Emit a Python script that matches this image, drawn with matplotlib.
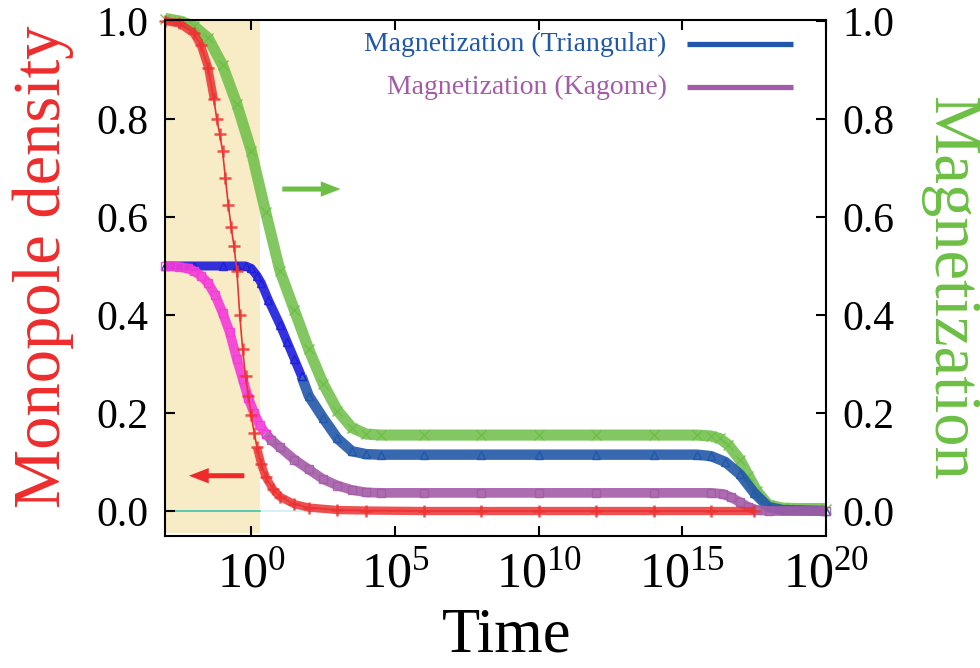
import numpy as np
import matplotlib
matplotlib.use("Agg")
import matplotlib.pyplot as plt

plt.rcParams["font.family"] = ["Liberation Serif", "DejaVu Serif"]
plt.rcParams["mathtext.fontset"] = "custom"
plt.rcParams["mathtext.rm"] = "Liberation Serif"
plt.rcParams["mathtext.it"] = "Liberation Serif:italic"

# ---- data: log10(time) and value ---------------------------------------
mono_logt = [-3.0, -2.5, -2.0, -1.75, -1.5, -1.3, -1.2, -1.1, -1.0, -0.9, -0.8,
             -0.7, -0.6, -0.5, -0.4, -0.3, -0.2, -0.1, 0.0, 0.1, 0.2, 0.35,
             0.5, 0.75, 1.0, 1.5, 2.0, 3.0, 4.0, 6.0, 8.0, 10.0, 12.0, 14.0,
             16.0, 17.5]
mono_val = [1.0, 0.995, 0.975, 0.95, 0.905, 0.84, 0.80, 0.77, 0.735, 0.68, 0.625,
            0.58, 0.54, 0.49, 0.40, 0.33, 0.275, 0.235, 0.195, 0.16, 0.13, 0.095,
            0.07, 0.045, 0.029, 0.014, 0.007, 0.002, 0.001, 0.0, 0.0, 0.0, 0.0, 0.0,
            0.0, 0.0]

mag_logt = [-3.0, -2.5, -2.0, -1.5, -1.0, -0.5, 0.0, 0.5, 1.0, 1.5, 2.0, 2.5,
            3.0, 3.5, 4.0, 4.5, 6.0, 8.0, 10.0, 12.0, 14.0, 15.5, 16.0, 16.3,
            16.6, 17.0, 17.3, 17.6, 18.0, 18.5, 19.0, 20.0]
mag_val = [1.005, 1.0, 0.99, 0.965, 0.91, 0.83, 0.735, 0.61, 0.49, 0.41, 0.33,
           0.26, 0.205, 0.17, 0.157, 0.155, 0.155, 0.155, 0.155, 0.155, 0.155,
           0.155, 0.153, 0.148, 0.135, 0.105, 0.072, 0.04, 0.012, 0.006, 0.005,
           0.005]

tri_logt = [-3.0, -2.0, -1.0, -0.5, -0.2, 0.0, 0.2, 0.35, 0.6, 1.0, 1.25, 1.5,
            1.75, 2.0, 2.5, 3.0, 3.5, 4.0, 4.5, 6.0, 8.0, 10.0, 12.0, 14.0,
            15.5, 16.0, 16.5, 17.0, 17.5, 18.0, 18.5, 20.0]
tri_val = [0.5, 0.5, 0.5, 0.5, 0.5, 0.495, 0.48, 0.465, 0.43, 0.38, 0.345, 0.31,
           0.275, 0.235, 0.19, 0.148, 0.122, 0.116, 0.115, 0.115, 0.115, 0.115,
           0.115, 0.115, 0.115, 0.112, 0.1, 0.075, 0.037, 0.008, 0.002, 0.0]

kag_logt = [-3.0, -2.5, -2.2, -2.0, -1.75, -1.5, -1.25, -1.0, -0.75, -0.5, -0.3,
            -0.1, 0.1, 0.3, 0.5, 0.7, 1.0, 1.5, 2.0, 2.5, 3.0, 3.5, 4.0, 4.5,
            6.0, 8.0, 10.0, 12.0, 14.0, 16.0, 16.4, 16.7, 17.0, 17.3, 17.6, 18.0,
            20.0]
kag_val = [0.5, 0.498, 0.495, 0.49, 0.48, 0.465, 0.44, 0.405, 0.365, 0.31, 0.27,
           0.23, 0.2, 0.175, 0.158, 0.145, 0.13, 0.105, 0.085, 0.065, 0.052,
           0.043, 0.038, 0.037, 0.037, 0.037, 0.037, 0.037, 0.037, 0.037, 0.035,
           0.028, 0.018, 0.008, 0.002, 0.0, 0.0]

# early-stage colouring ends at these exponents
tri_switch = 1.75
kag_switch = 0.5
shade_end = 0.31

x_ticks = [0, 5, 10, 15, 20]
y_ticks = [0.0, 0.2, 0.4, 0.6, 0.8, 1.0]

RED = "#EC3232"
GREEN = "#6CBE45"
BLUE = "#2157A8"
BLUE_EARLY = "#1C1CDC"
PURPLE = "#A35CA7"
MAGENTA = "#F53BD9"

fig = plt.figure(figsize=(9.8, 6.68), dpi=100)
ax = fig.add_axes([0.1684, 0.1976, 0.6745, 0.7725])
ax.set_xscale("log")
ax.set_xlim(1e-3, 1e20)
ax.set_ylim(-0.051, 1.002)

# shaded early-time window
ax.axvspan(1e-3, 10 ** shade_end, ymin=0.006, ymax=1.0, color="#F8ECC6",
           lw=0, zorder=0)
# zero reference line
ax.axhline(0.0, color="#CDEFF3", lw=1.2, zorder=1)
ax.plot([1e-3, 10 ** shade_end], [0, 0], color="#45C4A6", lw=1.2, zorder=1)


def t(logs):
    return 10.0 ** np.asarray(logs, dtype=float)


def band(logs, vals, color, lw, marker, ms, z, alpha=0.9):
    ax.plot(t(logs), vals, color=color, lw=lw, alpha=alpha,
            solid_capstyle="butt", zorder=z, clip_on=False)
    ax.plot(t(logs), vals, ls="none", marker=marker, ms=ms, mew=1.0,
            mfc="none", mec=color, alpha=0.9, zorder=z + 0.1, clip_on=False)


# magnetization (green)
band(mag_logt, mag_val, GREEN, 8, "x", 7, 2, alpha=0.85)

# triangular lattice
tl = np.asarray(tri_logt)
tv = np.asarray(tri_val)
late = tl >= tri_switch
early = tl <= tri_switch
band(tl[late], tv[late], BLUE, 7.5, "^", 6, 3)
band(tl[early], tv[early], BLUE_EARLY, 6.5, "^", 6, 3.5)

# kagome lattice
kl = np.asarray(kag_logt)
kv = np.asarray(kag_val)
late = kl >= kag_switch
early = kl <= kag_switch
band(kl[late], kv[late], PURPLE, 7, "s", 6, 4)
band(kl[early], kv[early], MAGENTA, 7, "s", 6, 4.5)

# monopole density (red, left axis)
ml = np.asarray(mono_logt)
mv = np.asarray(mono_val)
ax.plot(t(ml), mv, color=RED, lw=1.2, zorder=6, clip_on=False)
flat_a = ml <= -1.3
flat_b = ml >= 0.2
for sel in (flat_a, flat_b):
    ax.plot(t(ml[sel]), mv[sel], color=RED, lw=6, alpha=0.85,
            solid_capstyle="butt", zorder=5.5, clip_on=False)
ax.plot(t(ml), mv, ls="none", marker="+", ms=9, mew=1.8, color=RED,
        alpha=0.85, zorder=6.1, clip_on=False)

# direction arrows
arrow_kw = dict(arrowstyle="simple,head_length=1.3,head_width=1.0,tail_width=0.33",
                shrinkA=0, shrinkB=0, lw=0)
ax.annotate("", xy=(10 ** 3.11, 0.657), xytext=(10 ** 1.08, 0.657),
            arrowprops=dict(color=GREEN, mutation_scale=11, **arrow_kw), zorder=7)
ax.annotate("", xy=(10 ** -2.17, 0.072), xytext=(10 ** -0.24, 0.072),
            arrowprops=dict(color="#EE2A2A", mutation_scale=11, **arrow_kw), zorder=7)

# legend drawn by hand
leg_items = [("Magnetization (Triangular)", BLUE, 0.953),
             ("Magnetization (Kagome)", PURPLE, 0.870)]
for label, col, yy in leg_items:
    ax.text(0.759, yy, label, transform=ax.transAxes, ha="right", va="center",
            fontsize=20, color=col, zorder=8)
    ax.plot([0.790, 0.950], [yy, yy], transform=ax.transAxes, color=col,
            lw=3.8, solid_capstyle="butt", zorder=8)

# axes and ticks
ax.set_xticks([10.0 ** e for e in x_ticks])
ax.set_xticklabels(["$10^{%d}$" % e for e in x_ticks])
ax.xaxis.set_minor_locator(matplotlib.ticker.NullLocator())
ax.set_yticks(y_ticks)
ax.set_yticklabels(["%.1f" % v for v in y_ticks])
ax.tick_params(axis="x", which="major", direction="in", length=7, width=1.5,
               top=True, labelsize=36, pad=11)
ax.tick_params(axis="y", which="major", direction="in", length=7, width=1.5,
               left=True, right=True, labelleft=True, labelright=True,
               labelsize=30, pad=12)
for sp in ax.spines.values():
    sp.set_linewidth(1.5)
    sp.set_zorder(9)

fig.text(43 / 980, 1 - 267 / 668, "Monopole density", rotation=90,
         ha="center", va="center", fontsize=48, color="#EE2C2C")
fig.text(950 / 980, 1 - 288 / 668, "Magnetization", rotation=-90,
         ha="center", va="center", fontsize=48, color="#6CBF44")
fig.text(507 / 980, 1 - 637 / 668, "Time", ha="center", va="center",
         fontsize=45, color="black")

fig.savefig("out.png", dpi=100)
